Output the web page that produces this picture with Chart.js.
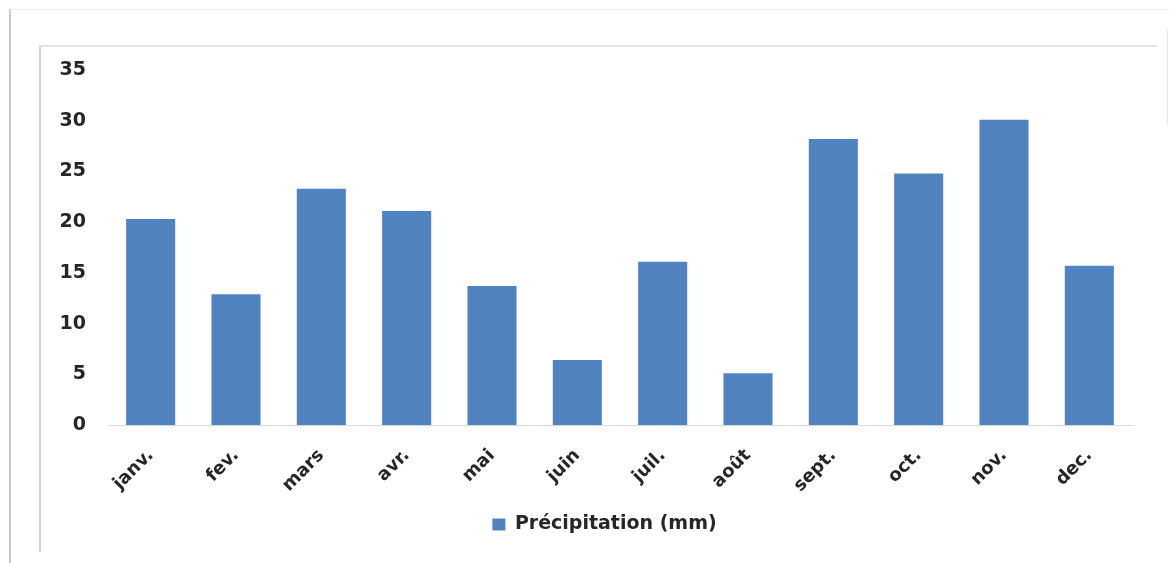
<!DOCTYPE html>
<html>
<head>
<meta charset="utf-8">
<script src="https://cdn.jsdelivr.net/npm/chart.js@4.4.1/dist/chart.umd.min.js"></script>
<style>
  html, body { margin: 0; padding: 0; background: #ffffff; width: 1169px; height: 563px; overflow: hidden; }
  #outer { position: absolute; left: 9px; top: 9px; width: 1160px; height: 556px;
           border-left: 2px solid #c9c9c9; border-top: 1px solid #ececec; }
  #inner { position: absolute; left: 39px; top: 45px; width: 1116px; height: 505px;
           border-left: 2px solid #d4d4d4; border-top: 2px solid #e3e3e3; }
  #rightline { position: absolute; left: 1167px; top: 30px; width: 1px; height: 95px; background: #e6e6e6; }
  #wrap { position: absolute; left: 40px; top: 46px; width: 1129px; height: 504px; }
</style>
</head>
<body>
<div id="outer"></div>
<div id="inner"></div>
<div id="rightline"></div>
<div id="wrap"><canvas id="c" width="1129" height="504"></canvas></div>
<script>
const categories = ['janv.', 'fev.', 'mars', 'avr.', 'mai', 'juin', 'juil.', 'août', 'sept.', 'oct.', 'nov.', 'dec.'];
const precipitation = [20.3, 12.9, 23.3, 21.1, 13.7, 6.4, 16.1, 5.1, 28.2, 24.8, 30.1, 15.7];
const seriesLabel = 'Précipitation (mm)';
const yMin = 0, yMax = 35, yStep = 5;

const textColor = '#262626';
const fontFamily = '"DejaVu Sans", "Open Sans", sans-serif';

new Chart(document.getElementById('c'), {
  type: 'bar',
  data: {
    labels: categories,
    datasets: [{
      label: seriesLabel,
      data: precipitation,
      backgroundColor: '#5183c0',
      borderWidth: 0,
      categoryPercentage: 1.0,
      barPercentage: 0.575,
      yAxisID: 'y'
    }]
  },
  options: {
    responsive: false,
    animation: false,
    layout: { padding: { left: 0, right: 0, top: 24, bottom: 6 } },
    plugins: {
      tooltip: { enabled: false },
      title: { display: false },
      legend: {
        position: 'bottom',
        labels: {
          color: textColor,
          font: { family: fontFamily, size: 19, weight: 'bold' },
          boxWidth: 13,
          boxHeight: 12,
          padding: 10
        }
      }
    },
    scales: {
      x: {
        grid: { display: false },
        border: { display: true, color: '#d9d9d9', width: 1 },
        ticks: {
          color: textColor,
          font: { family: fontFamily, size: 18, weight: 'bold' },
          minRotation: 45,
          maxRotation: 45,
          padding: 12
        },
        afterFit: s => { s.height = 80; }
      },
      y: {
        min: yMin,
        max: yMax,
        grid: { display: false, drawTicks: false },
        border: { display: false },
        ticks: {
          stepSize: yStep,
          color: textColor,
          font: { family: fontFamily, size: 19, weight: 'bold' },
          padding: 22
        },
        afterFit: s => { s.width = 68; s.paddingTop = 0; s.paddingBottom = 0; }
      },
      yRight: {
        position: 'right',
        min: yMin,
        max: yMax,
        grid: { display: false, drawTicks: false },
        border: { display: false },
        ticks: { display: false },
        afterFit: s => { s.width = 37; s.paddingTop = 0; s.paddingBottom = 0; }
      }
    }
  }
});
</script>
</body>
</html>
